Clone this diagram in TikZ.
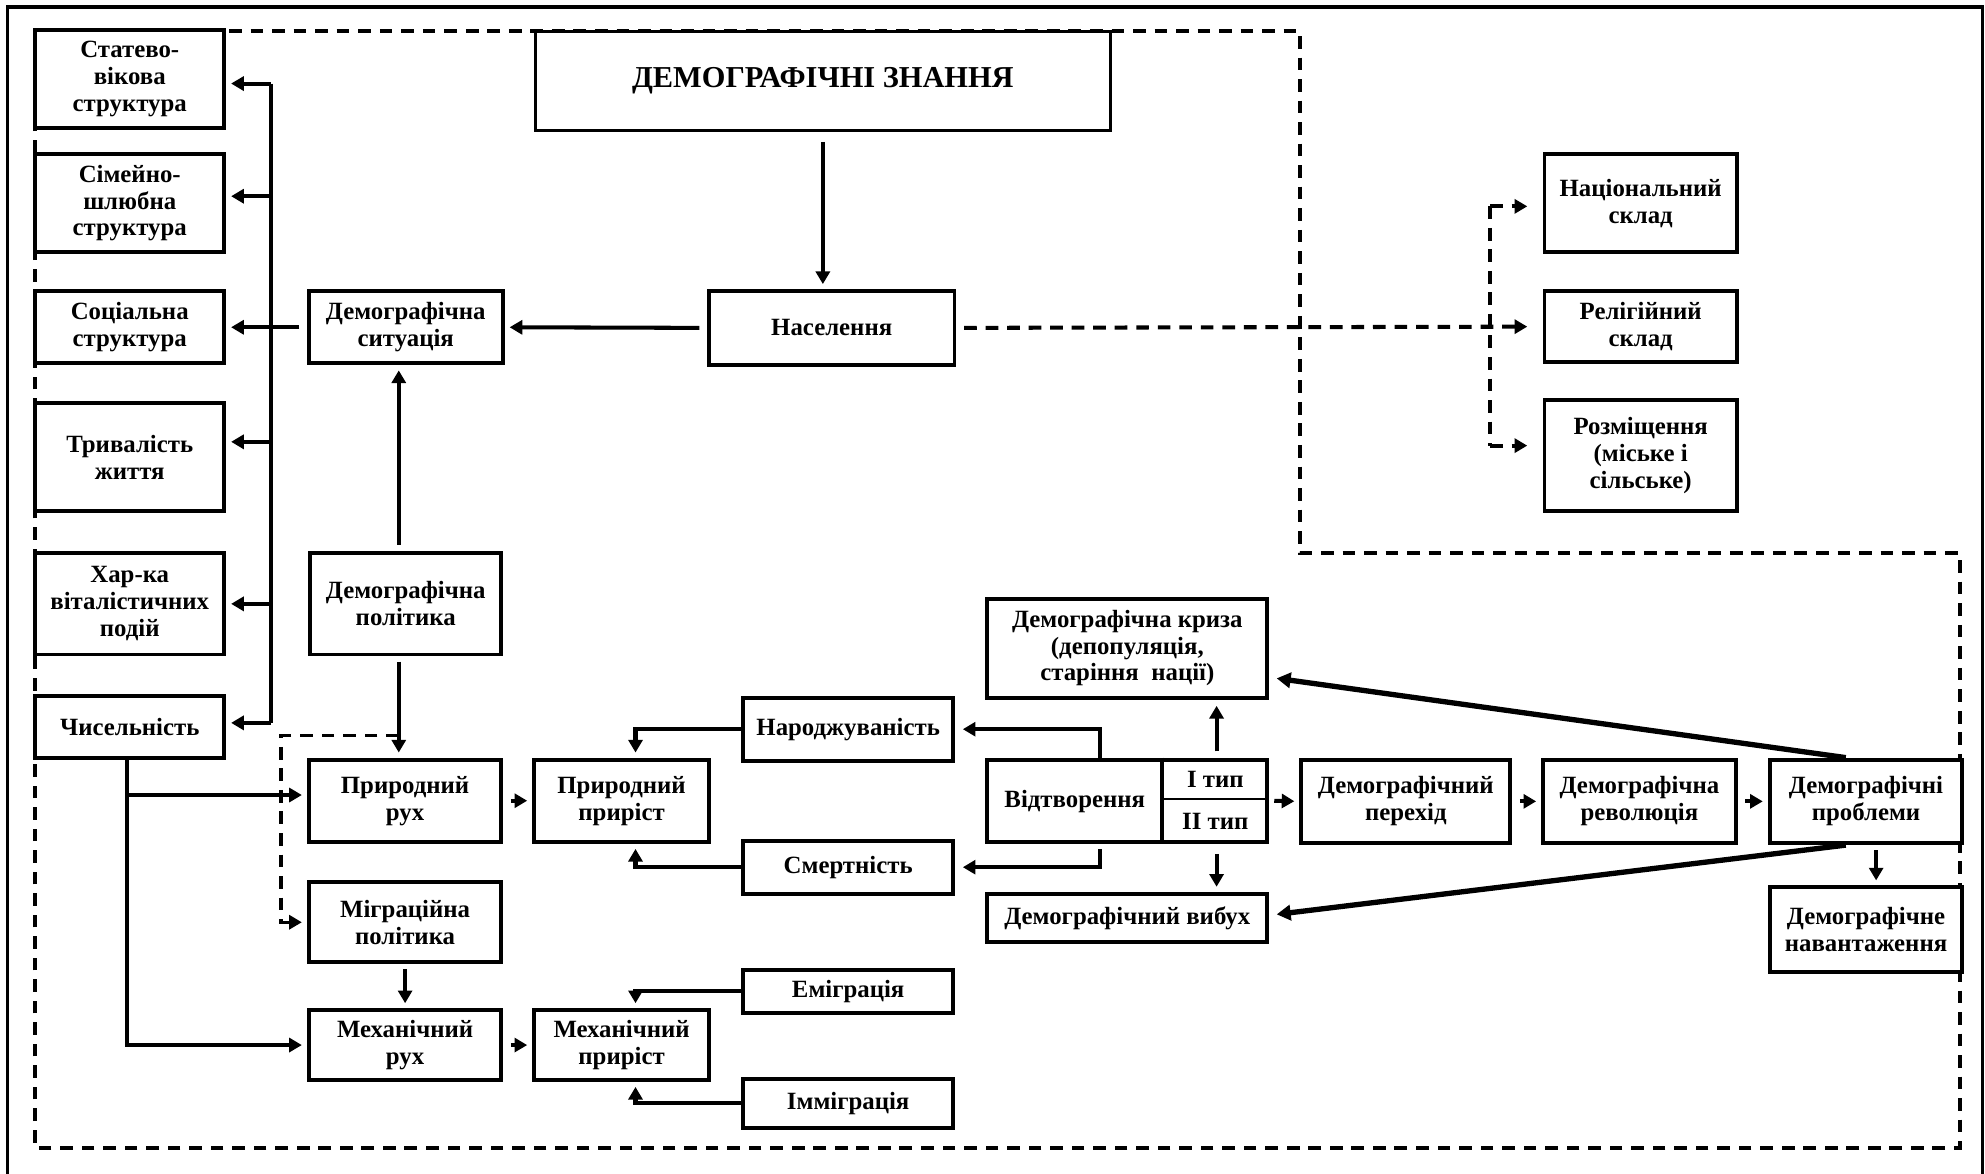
\documentclass[tikz,border=0pt]{standalone}
\usepackage{fontspec}
\setmainfont{Liberation Serif}
\usetikzlibrary{arrows.meta}
\newcommand{\boxnode}[6]{%
  \node[box, minimum width={(#4-#2)*0.5pt}, minimum height={(#5-#3)*0.5pt}] (#1) at ({(#2+#4)/2},{(#3+#5)/2}) {#6};}
\begin{document}
\begin{tikzpicture}[x=0.5pt,y=-0.5pt,
  box/.style={draw, line width=1.55pt, fill=white, align=center, inner sep=0pt, font=\fontsize{9.8}{10.6}\selectfont\bfseries},
  lbl/.style={inner sep=0pt, font=\fontsize{9.8}{10.6}\selectfont\bfseries},
  ln/.style={line width=1.6pt},
  arr/.style={line width=1.6pt, -{Triangle[length=5pt,width=5.5pt]}, shorten >=2pt},
  bigarr/.style={line width=2.1pt, -{Triangle[length=5.5pt,width=6pt]}, shorten >=3pt},
  dsh/.style={line width=1.6pt, dash pattern=on 5pt off 3.5pt},
  darr/.style={dsh, -{Triangle[length=5pt,width=5.5pt]}}]
\useasboundingbox (0,0) rectangle (1568,927);
% outer frame
\draw[line width=1.3pt] (6,940) -- (6,5.5) -- (1566,5.5) -- (1566,940);
% dashed region
\draw[dsh] (28,24.5) -- (1027,24.5) -- (1027,437) -- (1548,437) -- (1548,907) -- (28,907) -- cycle;

% left column
\boxnode{stat}{28}{24}{177}{101}{Статево-\\вікова\\структура}
\boxnode{sim}{28}{122}{177}{199}{Сімейно-\\шлюбна\\структура}
\boxnode{soc}{28}{230}{177}{287}{Соціальна\\структура}
\boxnode{tryv}{28}{318}{177}{404}{Тривалість\\життя}
\boxnode{khar}{28}{437}{177}{517}{Хар-ка\\віталістичних\\подій}
\boxnode{chys}{28}{550}{177}{599}{Чисельність}

% title
\node[draw, line width=1pt, fill=white, inner sep=0pt, minimum width={454*0.5pt}, minimum height={78*0.5pt}, font=\fontsize{12}{14}\selectfont\bfseries] (dz) at (650,64) {ДЕМОГРАФІЧНІ ЗНАННЯ};

% middle
\boxnode{nas}{560}{230}{754}{288}{Населення}
\boxnode{sit}{244}{230}{397}{287}{Демографічна\\ситуація}
\boxnode{pol}{245}{437}{396}{517}{Демографічна\\політика}
\boxnode{prrukh}{244}{600}{396}{665}{Природний\\рух}
\boxnode{migr}{244}{697}{396}{760}{Міграційна\\політика}
\boxnode{mekhrukh}{244}{798}{396}{853}{Механічний\\рух}
\boxnode{prpr}{422}{600}{560}{665}{Природний\\приріст}
\boxnode{mekhpr}{422}{798}{560}{853}{Механічний\\приріст}
\boxnode{narod}{587}{551}{753}{601}{Народжуваність}
\boxnode{smert}{587}{664}{753}{706}{Смертність}
\boxnode{emig}{587}{766}{753}{800}{Еміграція}
\boxnode{imig}{587}{852}{753}{891}{Імміграція}
\boxnode{kryza}{780}{473}{1001}{551}{Демографічна криза\\(депопуляція,\\старіння\ \ нації)}
\boxnode{vidtv}{780}{600}{1001}{665}{}
\boxnode{vybukh}{780}{706}{1001}{744}{Демографічний вибух}
\boxnode{perekhid}{1028}{600}{1193}{666}{Демографічний\\перехід}
\boxnode{revol}{1219}{600}{1371}{666}{Демографічна\\революція}
\boxnode{probl}{1398}{600}{1550}{666}{Демографічні\\проблеми}
\boxnode{navant}{1398}{701}{1550}{768}{Демографічне\\навантаження}

% right
\boxnode{natsskl}{1220}{122}{1372}{199}{Національний\\склад}
\boxnode{relig}{1220}{230}{1372}{286}{Релігійний\\склад}
\boxnode{rozm}{1220}{316}{1372}{404}{Розміщення\\(міське і\\сільське)}

% Відтворення internals
\draw[line width=1.5pt] (918,0 |- vidtv.north) -- (918,0 |- vidtv.south);
\draw[line width=0.8pt] (918,631) -- (vidtv.east |- 0,631);
\node[lbl] (vidtvtxt) at (849,633) {Відтворення};
\node[lbl] (typ1) at (960,616) {I тип};
\node[lbl] (typ2) at (960,649) {II тип};

% bus to the left column
\coordinate (bustop) at (214,66);
\coordinate (busbot) at (214,571);
\draw[ln] (bustop) -- (busbot);
\draw[arr] (bustop) -- (stat.east |- bustop);
\draw[arr] (214,155) -- (sim.east |- 0,155);
\draw[arr, shorten <=3pt] (sit.west) -- (soc.east);
\draw[arr] (214,349) -- (tryv.east |- 0,349);
\draw[arr] (214,477) -- (khar.east |- 0,477);
\draw[arr] (busbot) -- (chys.east |- busbot);

% main flow
\draw[arr, shorten <=4pt] (dz.south) -- (dz.south |- nas.north);
\draw[arr, shorten <=3pt] (nas.west) -- (sit.east);
\draw[arr, shorten <=2.5pt] (315,0 |- pol.north) -- (315,0 |- sit.south);
\draw[arr, shorten <=2pt] (315,0 |- pol.south) -- (315,0 |- prrukh.north);
\coordinate (dj) at (315,581);
\draw[darr, line width=1.3pt, shorten >=2pt] (dj) -- (222,581) -- (222,0 |- migr.west) -- (migr.west);

% Чисельність branches
\draw[arr] (100,0 |- chys.south) |- (mekhrukh.west);
\draw[arr] (100,628) -- (prrukh.west |- 0,628);

\draw[arr, shorten <=3pt] (prrukh.east) -- (prpr.west);
\draw[arr, shorten <=3pt] (mekhrukh.east) -- (mekhpr.west);
\draw[arr, shorten <=2pt] (320,0 |- migr.south) -- (320,0 |- mekhrukh.north);

\draw[arr] (narod.west) -| (502,0 |- prpr.north);
\draw[arr] (smert.west) -| (502,0 |- prpr.south);
\draw[arr] (emig.west) -| (502,0 |- mekhpr.north);
\draw[arr] (imig.west) -| (502,0 |- mekhpr.south);

\draw[arr, shorten >=3pt] (869,0 |- vidtv.north) |- (narod.east);
\draw[arr, shorten >=3pt, shorten <=2pt] (869,0 |- vidtv.south) |- (smert.east);
\draw[arr, shorten <=2.5pt, shorten >=2.5pt] (961,0 |- vidtv.north) -- (961,0 |- kryza.south);
\draw[arr, shorten <=4pt] (961,0 |- vidtv.south) -- (961,0 |- vybukh.north);
\draw[arr, shorten <=2pt] (vidtv.east) -- (perekhid.west);
\draw[arr, shorten <=3pt] (perekhid.east) -- (revol.west);
\draw[arr, shorten <=3pt] (revol.east) -- (probl.west);
\draw[bigarr] (1458,0 |- probl.north) -- (kryza.east |- 0,535);
\draw[bigarr] (1458,0 |- probl.south) -- (vybukh.east |- 0,723);
\draw[arr, shorten <=2pt] (1482,0 |- probl.south) -- (1482,0 |- navant.north);

% population composition (dashed)
\draw[darr, shorten <=3pt, shorten >=6pt] (nas.east) -- (relig.west);
\coordinate (brtop) at (1177,163);
\coordinate (brbot) at (1177,352);
\draw[dsh] (brtop) -- (brbot);
\draw[darr, shorten >=6pt] (brtop) -- (natsskl.west |- brtop);
\draw[darr, shorten >=6pt] (brbot) -- (rozm.west |- brbot);
\end{tikzpicture}
\end{document}
